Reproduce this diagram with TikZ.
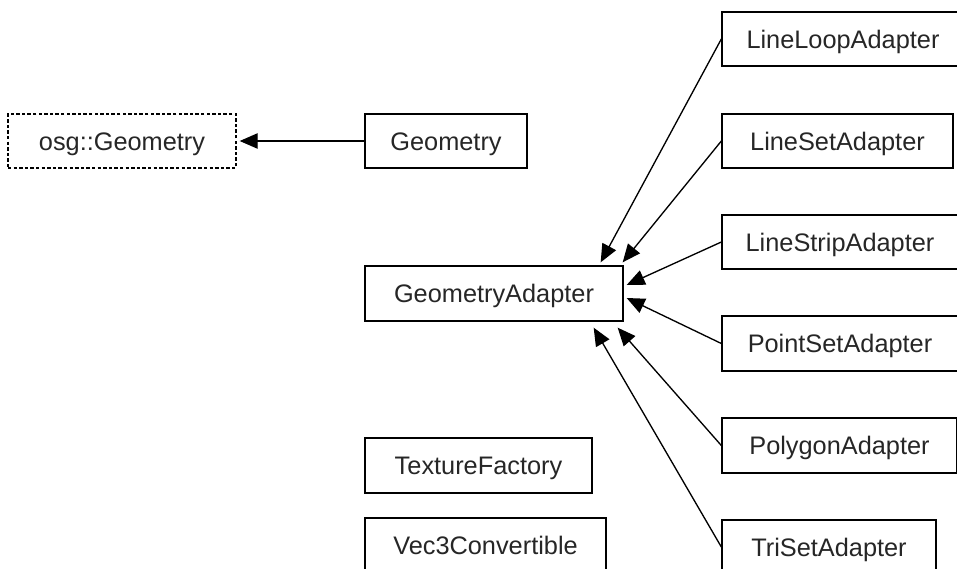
\documentclass[tikz,border=0pt]{standalone}
\usepackage{fontspec}
\setmainfont{Liberation Sans}
\usetikzlibrary{arrows.meta,calc}

\tikzset{
  cls/.style={draw, line width=1pt, inner sep=0pt, minimum height=40.5pt,
    text height=14.2pt, text depth=0pt,
    font=\fontsize{19}{22}\selectfont, text=black!85},
  ext/.style={cls, dash pattern=on 2.6pt off 1.6pt},
  inherit/.style={line width=1pt, -{Triangle[length=13.5pt,width=11.5pt]}}
}

\begin{document}
\begin{tikzpicture}[x=0.75pt,y=-0.75pt]
  \useasboundingbox (0,0) rectangle (957,568);
  \clip (0,0) rectangle (957,568);

  % classes on the left
  \node[ext, minimum width=171pt]    (osg)  at (122,141)   {osg::Geometry};
  \node[cls, minimum width=121.5pt]  (geom) at (446,141)   {Geometry};
  \node[cls, minimum width=193.5pt, minimum height=41.25pt] (ga) at (494,293.5) {GeometryAdapter};
  \node[cls, minimum width=170.25pt, minimum height=41.25pt] (tf) at (478.5,465.5) {TextureFactory};
  \node[cls, minimum width=180.75pt] (vec)  at (485.5,545) {Vec3Convertible};

  % adapter subclasses on the right
  \node[cls, minimum width=181.5pt]  (lla)  at (843,39)    {LineLoopAdapter};
  \node[cls, minimum width=173.25pt] (lsa)  at (837.5,141) {LineSetAdapter};
  \node[cls, minimum width=177pt]    (lstr) at (840,242)   {LineStripAdapter};
  \node[cls, minimum width=177pt, minimum height=41.25pt] (psa) at (840,343.5) {PointSetAdapter};
  \node[cls, minimum width=176.25pt, minimum height=41.25pt] (pga) at (839.5,445.5) {PolygonAdapter};
  \node[cls, minimum width=160.5pt]  (tsa)  at (829,547)   {TriSetAdapter};

  % inheritance arrows
  \draw[inherit] (geom.west) -- ($(osg.east)+(3,0)$);
  \draw[inherit] (lla.west)  -- ($(ga.north east)+(-23,-3)$);
  \draw[inherit] (lsa.west)  -- ($(ga.north east)+(-1,-3)$);
  \draw[inherit] (lstr.west) -- ($(ga.east)+(3,-8.5)$);
  \draw[inherit] (psa.west)  -- ($(ga.east)+(3,4.5)$);
  \draw[inherit] (pga.west)  -- ($(ga.south east)+(-6,6)$);
  \draw[inherit] (tsa.west)  -- ($(ga.south east)+(-30,6)$);
\end{tikzpicture}
\end{document}
